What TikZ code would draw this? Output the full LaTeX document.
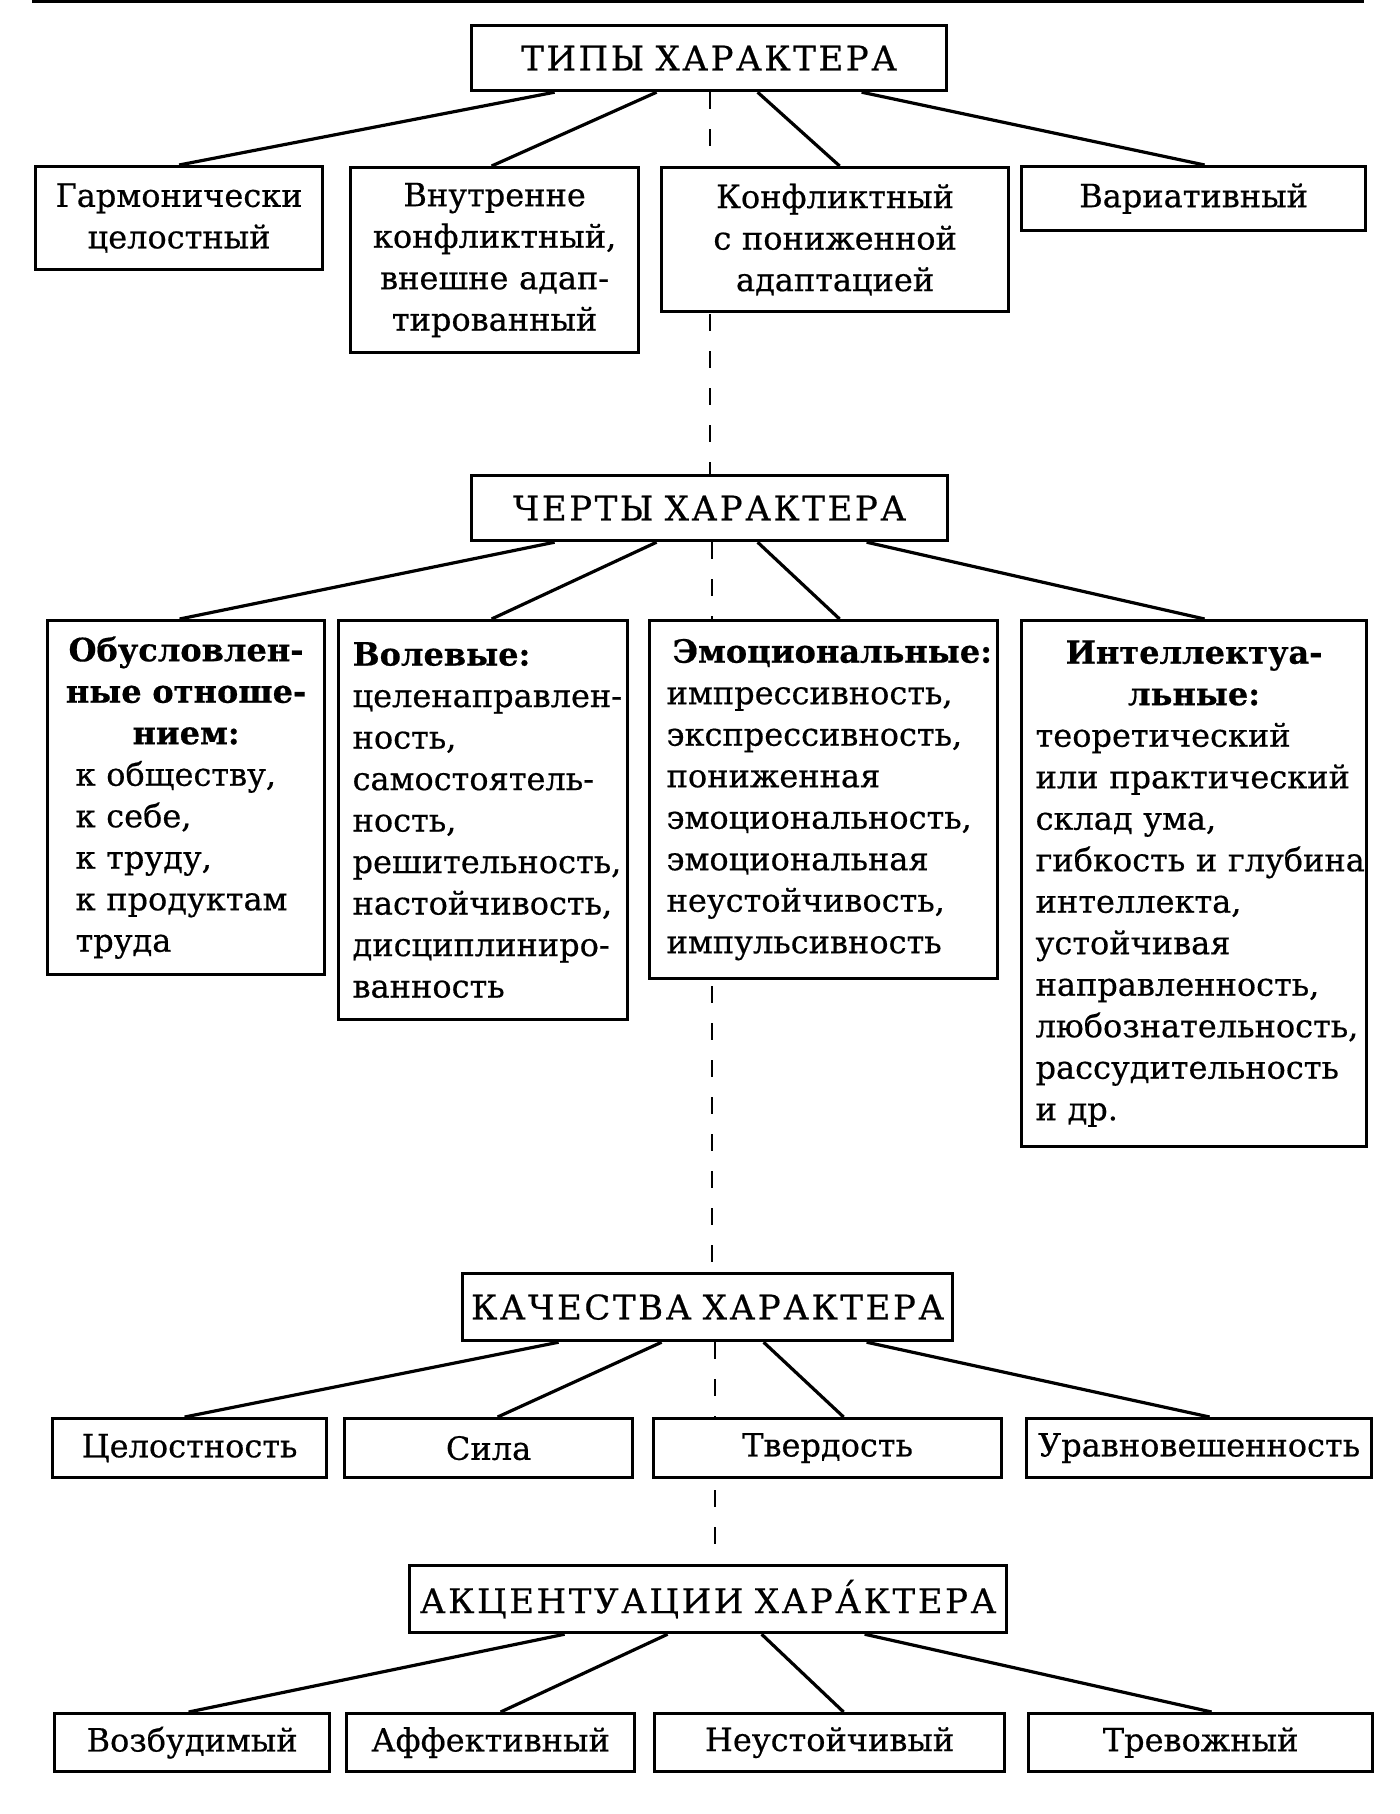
\documentclass[tikz,border=0pt]{standalone}
\usepackage{fontspec}
\setmainfont{DejaVu Serif}
\usetikzlibrary{calc,backgrounds}
\tikzset{
  box/.style={draw=black, line width=1.6pt, fill=white, inner xsep=1pt, inner ysep=2pt,
    font=\fontsize{16}{20.75}\selectfont\addfontfeature{FakeBold=0.5}, align=center},
  head/.style={font=\fontsize{17}{20}\selectfont\addfontfeature{LetterSpace=7.5,FakeBold=0.5}},
  lbox/.style={align=left},
  conn/.style={line width=1.6pt},
  axisline/.style={line width=1pt, dash pattern=on 8.5pt off 10pt},
}
\newcommand\bx[7][]{%
  \pgfmathsetmacro\bw{(#5-#3)*0.5}%
  \pgfmathsetmacro\bh{(#6-#4)*0.5}%
  \pgfmathsetmacro\tw{(#5-#3)*0.5-2}%
  \node[box, anchor=north west, minimum width=\bw pt, minimum height=\bh pt,
        text width=\tw pt, #1] (#2) at (#3,#4) {#7};}
\newcommand\cl[1]{\makebox[\hsize][c]{#1}}
\newcommand\lline[2]{\hspace*{#1}\mbox{#2}}
\begin{document}
\begin{tikzpicture}[x=0.5pt,y=-0.5pt]
\useasboundingbox (0,0) rectangle (1400,1814);
\draw[line width=2pt] (32,1.5) -- (1364,1.5);

% level 1
\bx[head]{P1}{470}{24}{945}{89}{ТИПЫ ХАРАКТЕРА}
\bx{C1a}{34}{165}{321}{268}{Гармонически\\целостный}
\bx{C1b}{349}{166}{637}{351}{Внутренне\\конфликтный,\\внешне адап-\\тированный}
\bx{C1c}{660}{166}{1007}{310}{Конфликтный\\с пониженной\\адаптацией}
\bx{C1d}{1020}{165}{1364}{229}{Вариативный}

% level 2
\bx[head]{P2}{470}{474}{946}{539}{ЧЕРТЫ ХАРАКТЕРА}
\bx[lbox]{C2a}{46}{619}{323}{973}{\cl{\bfseries Обусловлен-}\\\cl{\bfseries ные отноше-}\\\cl{\bfseries нием:}\\
  \lline{13pt}{к обществу,}\\\lline{13pt}{к себе,}\\\lline{13pt}{к труду,}\\\lline{13pt}{к продуктам}\\\lline{13pt}{труда}}
\bx[lbox]{C2b}{337}{619}{626}{1018}{\lline{6pt}{\bfseries Волевые:}\\\lline{6pt}{целенаправлен-}\\\lline{6pt}{ность,}\\\lline{6pt}{самостоятель-}\\\lline{6pt}{ность,}\\\lline{6pt}{решительность,}\\\lline{6pt}{настойчивость,}\\\lline{6pt}{дисциплиниро-}\\\lline{6pt}{ванность}}
\bx[lbox]{C2c}{648}{619}{996}{977}{\lline{10.5pt}{\bfseries Эмоциональные:}\\\lline{7.5pt}{импрессивность,}\\\lline{7.5pt}{экспрессивность,}\\\lline{7.5pt}{пониженная}\\\lline{7.5pt}{эмоциональность,}\\\lline{7.5pt}{эмоциональная}\\\lline{7.5pt}{неустойчивость,}\\\lline{7.5pt}{импульсивность}}
\bx[lbox]{C2d}{1020}{619}{1365}{1145}{\cl{\bfseries Интеллектуа-}\\\cl{\bfseries льные:}\\
  \lline{6pt}{теоретический}\\\lline{6pt}{или практический}\\\lline{6pt}{склад ума,}\\\lline{6pt}{гибкость и глубина}\\\lline{6pt}{интеллекта,}\\\lline{6pt}{устойчивая}\\\lline{6pt}{направленность,}\\\lline{6pt}{любознательность,}\\\lline{6pt}{рассудительность}\\\lline{6pt}{и др.}}

% level 3
\bx[head]{P3}{461}{1272}{951}{1339}{КАЧЕСТВА ХАРАКТЕРА}
\bx{C3a}{51}{1417}{325}{1476}{Целостность}
\bx{C3b}{343}{1417}{631}{1476}{Сила}
\bx{C3c}{652}{1417}{1000}{1476}{Твердость}
\bx{C3d}{1025}{1417}{1370}{1476}{Уравновешенность}

% level 4
\bx[head]{P4}{408}{1564}{1005}{1631}{АКЦЕНТУАЦИИ ХАРА́КТЕРА}
\bx{C4a}{53}{1712}{328}{1770}{Возбудимый}
\bx{C4b}{345}{1712}{633}{1770}{Аффективный}
\bx{C4c}{653}{1712}{1003}{1770}{Неустойчивый}
\bx{C4d}{1027}{1712}{1371}{1770}{Тревожный}

\begin{scope}[on background layer]
\draw[axisline] ($(P1.south)+(0.5,0)$) -- (P2.north);
\draw[axisline] ($(P2.south)+(2,0)$) -- ($(P3.north)+(4,0)$);
\draw[axisline] ($(P3.south)+(7,0)$) -- ($(P4.north)+(6.5,0)$);
\end{scope}

% connectors level 1
\draw[conn] ($(P1.south)+(-154.5,0)$) -- (C1a.north);
\draw[conn] ($(P1.south)+(-52.5,0)$) -- ($(C1b.north)+(-3,0)$);
\draw[conn] ($(P1.south)+(48.5,0)$) -- ($(C1c.north)+(4.5,0)$);
\draw[conn] ($(P1.south)+(152.5,0)$) -- ($(C1d.north)+(11,0)$);
% level 2
\draw[conn] ($(P2.south)+(-155,0)$) -- ($(C2a.north)+(-6.5,0)$);
\draw[conn] ($(P2.south)+(-53,0)$) -- ($(C2b.north)+(8.5,0)$);
\draw[conn] ($(P2.south)+(48,0)$) -- ($(C2c.north)+(16,0)$);
\draw[conn] ($(P2.south)+(157,0)$) -- ($(C2d.north)+(10.5,0)$);
% level 3
\draw[conn] ($(P3.south)+(-149,0)$) -- ($(C3a.north)+(-5,0)$);
\draw[conn] ($(P3.south)+(-46,0)$) -- ($(C3b.north)+(9,0)$);
\draw[conn] ($(P3.south)+(56,0)$) -- ($(C3c.north)+(16,0)$);
\draw[conn] ($(P3.south)+(159,0)$) -- ($(C3d.north)+(10.5,0)$);
% level 4
\draw[conn] ($(P4.south)+(-143.5,0)$) -- ($(C4a.north)+(-3.5,0)$);
\draw[conn] ($(P4.south)+(-40.5,0)$) -- ($(C4b.north)+(10,0)$);
\draw[conn] ($(P4.south)+(53.5,0)$) -- ($(C4c.north)+(14,0)$);
\draw[conn] ($(P4.south)+(156.5,0)$) -- ($(C4d.north)+(11,0)$);
\end{tikzpicture}
\end{document}
